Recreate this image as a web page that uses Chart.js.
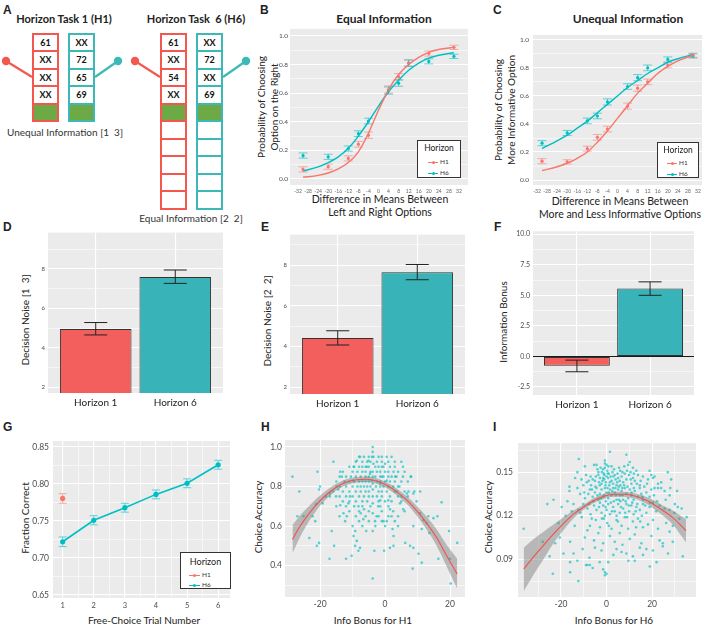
<!DOCTYPE html>
<html>
<head>
<meta charset="utf-8">
<title>Horizon task</title>
<script src="https://cdn.jsdelivr.net/npm/chart.js"></script>
<style>
  body { margin: 0; width: 708px; height: 626px; position: relative; overflow: hidden; background: #fff; font-family: Lato, sans-serif; color: #222; }
  canvas { position: absolute; }
  .t { position: absolute; transform: translate(-50%, -50%); white-space: nowrap; text-align: center; line-height: 1.2; }
  .r { position: absolute; transform: translate(-50%, -50%) rotate(-90deg); white-space: nowrap; text-align: center; line-height: 1.25; }
  .let { position: absolute; font-family: "Liberation Sans", Arial, sans-serif; font-weight: bold; font-size: 12px; }
  .cell { position: absolute; box-sizing: border-box; border: 2px solid; background: #fff; font-weight: bold; font-size: 9px; text-align: center; color: #111; }
  .leg { position: absolute; box-sizing: border-box; border: 1px solid #333; background: #fff; }
  .leg div { position: absolute; }
</style>
</head>
<body>

<!-- panel letters -->
<div class="let" style="left:3px;top:3px">A</div>
<div class="let" style="left:260px;top:3px">B</div>
<div class="let" style="left:493px;top:3px">C</div>
<div class="let" style="left:3px;top:220px">D</div>
<div class="let" style="left:261px;top:220px">E</div>
<div class="let" style="left:494px;top:220px">F</div>
<div class="let" style="left:3px;top:420px">G</div>
<div class="let" style="left:261px;top:420px">H</div>
<div class="let" style="left:493px;top:420px">I</div>

<!-- panel A -->
<div class="t" style="left:64px;top:19px;font-size:11px;font-weight:bold">Horizon Task 1 (H1)</div>
<div class="t" style="left:196px;top:19px;font-size:11px;font-weight:bold">Horizon Task &nbsp;6 (H6)</div>
<div class="t" style="left:65px;top:132px;font-size:10px;color:#333">Unequal Information [1 &nbsp;3]</div>
<div class="t" style="left:191px;top:218px;font-size:10px;color:#333">Equal Information [2 &nbsp;2]</div>
<svg id="armSvg" style="position:absolute;left:0;top:0" width="260" height="120"></svg>
<div id="panelA"></div>

<!-- titles -->
<div class="t" style="left:384px;top:19px;font-size:12px;font-weight:bold">Equal Information</div>
<div class="t" style="left:628px;top:19px;font-size:12px;font-weight:bold">Unequal Information</div>

<div class="r" style="left:267px;top:107px;font-size:10px">Probability of Choosing<br>Option on the Right</div>
<div class="r" style="left:504px;top:110px;font-size:10px">Probability of Choosing<br>More Informative Option</div>
<div class="t" style="left:380px;top:206px;font-size:10.5px;line-height:1.25">Difference in Means Between<br>Left and Right Options</div>
<div class="t" style="left:620px;top:208px;font-size:10.5px;line-height:1.25">Difference in Means Between<br>More and Less Informative Options</div>

<div class="r" style="left:25px;top:320px;font-size:10px">Decision Noise [1 &nbsp;3]</div>
<div class="r" style="left:267px;top:321px;font-size:10px">Decision Noise [2 &nbsp;2]</div>
<div class="r" style="left:503px;top:322px;font-size:10px">Information Bonus</div>

<div class="r" style="left:25px;top:518px;font-size:10px">Fraction Correct</div>
<div class="t" style="left:144px;top:620px;font-size:10px">Free-Choice Trial Number</div>
<div class="r" style="left:258px;top:517px;font-size:10px">Choice Accuracy</div>
<div class="t" style="left:373px;top:620px;font-size:10px">Info Bonus for H1</div>
<div class="r" style="left:488px;top:517px;font-size:10px">Choice Accuracy</div>
<div class="t" style="left:614px;top:620px;font-size:10px">Info Bonus for H6</div>

<canvas id="chartB"></canvas>
<canvas id="chartC"></canvas>
<canvas id="chartD"></canvas>
<canvas id="chartE"></canvas>
<canvas id="chartF"></canvas>
<canvas id="chartG"></canvas>
<canvas id="chartH"></canvas>
<canvas id="chartI"></canvas>
<div id="legends"></div>

<script>
// ---------- data ----------
// panel A: revealed outcomes in each bandit
var h1Left = ["61", "XX", "XX", "XX"];
var h1Right = ["XX", "72", "65", "69"];
var h6Left = ["61", "XX", "54", "XX"];
var h6Right = ["XX", "72", "XX", "69"];

// B: equal information
var bDiff = [-30, -20, -12, -8, -4, 4, 8, 12, 20, 30];
var bH1 = [0.067, 0.086, 0.144, 0.243, 0.306, 0.625, 0.715, 0.81, 0.877, 0.92];
var bH6 = [0.164, 0.155, 0.213, 0.317, 0.405, 0.618, 0.67, 0.81, 0.822, 0.857];
var bH1Err = [0.018, 0.018, 0.018, 0.02, 0.022, 0.025, 0.022, 0.022, 0.018, 0.015];
var bH6Err = [0.018, 0.018, 0.018, 0.02, 0.02, 0.025, 0.022, 0.022, 0.018, 0.015];
var bFitX = [-30, -24, -20, -16, -12, -8, -4, 0, 4, 8, 12, 16, 20, 24, 30];
var bFitH1 = [0.012, 0.025, 0.042, 0.07, 0.115, 0.19, 0.32, 0.48, 0.625, 0.73, 0.8, 0.85, 0.885, 0.905, 0.92];
var bFitH6 = [0.055, 0.085, 0.115, 0.155, 0.215, 0.3, 0.4, 0.51, 0.61, 0.69, 0.76, 0.81, 0.845, 0.865, 0.882];

// C: unequal information
var cDiff = [-30, -20, -12, -8, -4, 4, 8, 12, 20, 30];
var cH1 = [0.135, 0.13, 0.224, 0.305, 0.364, 0.527, 0.655, 0.7, 0.818, 0.89];
var cH6 = [0.263, 0.336, 0.422, 0.457, 0.557, 0.667, 0.73, 0.8, 0.86, 0.885];
var cH1Err = [0.018, 0.015, 0.018, 0.02, 0.02, 0.022, 0.022, 0.02, 0.018, 0.015];
var cH6Err = [0.018, 0.018, 0.02, 0.02, 0.022, 0.02, 0.022, 0.02, 0.018, 0.015];
var cFitX = [-30, -24, -20, -16, -12, -8, -4, 0, 4, 8, 12, 16, 20, 24, 30];
var cFitH1 = [0.068, 0.095, 0.12, 0.155, 0.2, 0.27, 0.35, 0.44, 0.53, 0.62, 0.69, 0.76, 0.81, 0.85, 0.89];
var cFitH6 = [0.225, 0.28, 0.32, 0.37, 0.42, 0.48, 0.54, 0.6, 0.66, 0.71, 0.76, 0.8, 0.84, 0.865, 0.895];

// D, E, F: bar charts
var horizons = ["Horizon 1", "Horizon 6"];
var dNoise = [4.95, 7.6], dLo = [4.65, 7.27], dHi = [5.28, 7.95];
var eNoise = [4.42, 7.65], eLo = [4.07, 7.28], eHi = [4.77, 8.03];
var fBonus = [-0.75, 5.55], fLo = [-1.25, 5.0], fHi = [-0.3, 6.1];

// G: fraction correct by free-choice trial
var gTrial = [1, 2, 3, 4, 5, 6];
var gH6 = [0.722, 0.751, 0.768, 0.786, 0.801, 0.826];
var gH6Err = [0.0065, 0.0062, 0.006, 0.006, 0.006, 0.006];
var gH1Trial = [1];
var gH1 = [0.7805];
var gH1Err = [0.0065];

// H: info bonus (H1) vs choice accuracy
var hPts = [
  [-28.5,0.85],[-26.4,0.775],[-27,0.65],[-25.1,0.65],[-23.3,0.54],[-21,0.5],[-20.3,0.515],[-20.8,0.875],[-20.3,0.785],[-20,0.8],
  [-21.2,0.71],[-22.3,0.65],[-21.5,0.625],[-19.2,0.715],[-18.2,0.75],[-16.9,0.765],[-16.4,0.575],[-15.7,0.5],[-17.1,0.435],[-15.9,0.925],
  [-13.8,0.875],[-13.3,0.85],[-14.9,0.8],[-15.1,0.75],[-14.4,0.785],[-13.8,0.705],[-12.8,0.665],[-11.8,0.65],[-12.3,0.625],[-12,0.435],
  [-10.3,0.45],[-9.7,0.55],[-9.2,0.575],[-8.7,0.525],[-7.7,0.49],[-8.2,0.475],[-9.2,0.5],[-11.3,0.715],[-10.8,0.75],[-9.9,0.83],
  [-9.7,0.9],[-8.7,0.93],[-7.7,0.95],[-8.2,0.7],[-7.5,0.665],[-6.7,0.635],[-5.8,0.575],[-6.5,0.685],[-5.6,0.9],[-5.1,0.93],
  [-4.6,0.865],[-4.1,0.83],[-3.8,0.975],[-3.8,1.0],[-3.6,0.95],[-3.6,0.915],[-3.8,0.875],[-3.8,0.85],[-3.8,0.815],[-3.8,0.785],
  [-3.8,0.75],[-3.8,0.715],[-3.8,0.665],[-3.8,0.575],[-3.8,0.335],[-3.3,0.475],[-3.1,0.625],[-2.6,0.65],[-2.1,0.7],[-1.5,0.73],
  [-1.5,0.815],[-1,0.85],[-0.5,0.9],[0,0.915],[0.5,0.95],[0.5,0.83],[1,0.8],[1,0.73],[1.5,0.685],[2,0.65],
  [2.6,0.875],[3.1,0.85],[2.3,0.585],[2.6,0.55],[0.5,0.625],[-0.5,0.625],[-0.3,0.475],[1.5,0.49],[2.6,0.5],[3.6,0.775],
  [4.4,0.8],[5.1,0.75],[4.6,0.715],[5.6,0.685],[6.7,0.765],[7.2,0.775],[7.9,0.85],[6.2,0.515],[7.7,0.5],[8.7,0.49],
  [8.7,0.765],[9.7,0.725],[10.8,0.775],[11.3,0.585],[8.7,0.6],[8.5,0.385],[10.3,0.46],[11.3,0.415],[10.8,0.665],[11.8,0.63],
  [12.8,0.615],[13.3,0.65],[14.9,0.64],[16.1,0.65],[13.6,0.565],[16.4,0.435],[17.4,0.72],[19.7,0.575],[20,0.435],[20.2,0.31],
  [22.2,0.515],
  [-8,0.95],[-6.5,0.95],[-5,0.95],[-4,0.95],[-2,0.95],[-1,0.95],[2,0.95],
  [-9,0.925],[-7,0.925],[-5.5,0.925],[-4.5,0.925],[-2.5,0.925],[-1,0.925],[1,0.925],[3,0.925],[5,0.925],
  [-11,0.9],[-9.5,0.9],[-8,0.9],[-7,0.9],[-6,0.9],[-5,0.9],[-3,0.9],[-2,0.9],[-1,0.9],[1.5,0.9],[3,0.9],[5.5,0.9],
  [-13,0.875],[-10,0.875],[-8.5,0.875],[-7,0.875],[-6,0.875],[-4.5,0.875],[-2.5,0.875],[-1.5,0.875],[0,0.875],[1,0.875],[4,0.875],[6,0.875],
  [-14,0.85],[-12,0.85],[-10.5,0.85],[-9,0.85],[-7.5,0.85],[-6,0.85],[-5,0.85],[-3,0.85],[-1.5,0.85],[-0.5,0.85],[1,0.85],[2,0.85],[3.5,0.85],[5.5,0.85],[8,0.85],
  [-15,0.825],[-12.5,0.825],[-11,0.825],[-9.5,0.825],[-8,0.825],[-7,0.825],[-6,0.825],[-5,0.825],[-2.5,0.825],[-1.5,0.825],[0,0.825],[1.5,0.825],[3,0.825],[5,0.825],[7,0.825],
  [-14,0.8],[-12,0.8],[-10,0.8],[-8.5,0.8],[-7.5,0.8],[-6.5,0.8],[-5.5,0.8],[-4.5,0.8],[-2.8,0.8],[-1.5,0.8],[-0.5,0.8],[2.5,0.8],[4,0.8],
  [-16,0.775],[-13,0.775],[-11,0.775],[-9,0.775],[-7.5,0.775],[-6,0.775],[-5,0.775],[-2,0.775],[-1,0.775],[0.5,0.775],[3,0.775],[6,0.775],[9,0.775],
  [-17,0.75],[-14,0.75],[-12,0.75],[-10,0.75],[-8,0.75],[-6.5,0.75],[-5,0.75],[-2.5,0.75],[-1,0.75],[1.5,0.75],[4,0.75],[7,0.75],
  [-13,0.725],[-11,0.725],[-9,0.725],[-7,0.725],[-5.5,0.725],[-2,0.725],[0,0.725],[2,0.725],[5,0.725],
  [-15,0.7],[-12,0.7],[-9.5,0.7],[-7,0.7],[-4.5,0.7],[-1.5,0.7],[1,0.7],
  [-11,0.675],[-8,0.675],[-5,0.675],[-1,0.675],[2.5,0.675],[6,0.675],
  [-14,0.65],[-9,0.65],[-6,0.65],[-2,0.65],[1,0.65],[4,0.65],
  [-8,0.625],[-5,0.625],[-1,0.625],[3,0.625],
  [-10,0.6],[-7,0.6],[-3,0.6],[0,0.6],[4,0.6]
];
var hFitX = [-28.5, -26.2, -24.1, -21, -17.9, -14.9, -11.8, -8.7, -5.6, -2.6, 0.5, 3.6, 6.7, 9.7, 12.8, 15.9, 19, 22.2];
var hFit = [0.532, 0.599, 0.648, 0.711, 0.761, 0.798, 0.823, 0.834, 0.837, 0.828, 0.806, 0.773, 0.731, 0.678, 0.615, 0.541, 0.449, 0.358];
var hHi = [0.605, 0.654, 0.69, 0.741, 0.783, 0.815, 0.838, 0.848, 0.851, 0.842, 0.821, 0.79, 0.751, 0.703, 0.647, 0.583, 0.504, 0.435];
var hLo = [0.462, 0.544, 0.606, 0.681, 0.739, 0.781, 0.808, 0.82, 0.823, 0.814, 0.791, 0.756, 0.711, 0.653, 0.583, 0.499, 0.394, 0.283];

// I: info bonus (H6) vs choice accuracy
var iPts = [
  [1.5,0.164],[-12.2,0.159],[-0.7,0.158],[-0.7,0.156],[8.7,0.162],[0,0.155],[10.2,0.157],
  [-9.5,0.154],[-5.5,0.155],[-4.4,0.155],[-3.6,0.150],[-1.5,0.152],[-0.7,0.153],[0.3,0.151],[2.2,0.154],[9.5,0.155],[11.6,0.153],[13.1,0.151],[18.9,0.151],[26.9,0.150],[-1.2,0.149],[-12.8,0.150],
  [-13.8,0.146],[-8.7,0.143],[-7,0.147],[-6.1,0.145],[-5.1,0.144],[-4.7,0.147],[-3.6,0.148],[-2.9,0.146],[-2.2,0.142],[-1.5,0.146],[-1,0.145],[0,0.147],[0.7,0.146],[1.5,0.143],[2.2,0.144],[2.9,0.142],[3.6,0.148],[4.4,0.141],[5.1,0.146],[5.8,0.144],[6.6,0.147],[7.3,0.143],[8,0.149],[8.7,0.145],[9.9,0.148],[10.9,0.142],[11.6,0.146],[12.4,0.144],[13.8,0.148],[14.6,0.141],[16,0.147],[18.2,0.145],[19.7,0.148],[20.4,0.146],[21.1,0.147],[22.6,0.142],[24,0.143],[28.4,0.145],[-10.2,0.141],[-16.3,0.140],[-9,0.148],[-3,0.141],[1,0.149],[4,0.145],[6.1,0.141],[-0.3,0.143],[3,0.147],[-6.8,0.141],[-11,0.145],
  [-23.3,0.131],[-17.2,0.130],[-16.3,0.137],[-11.6,0.135],[-9.5,0.132],[-7.3,0.138],[-6.1,0.133],[-5.1,0.136],[-4.4,0.139],[-3.6,0.131],[-2.9,0.135],[-2.2,0.138],[-1.5,0.133],[-0.7,0.139],[0,0.136],[0.7,0.132],[1.5,0.138],[2.2,0.134],[2.9,0.139],[3.6,0.136],[4.4,0.131],[5.1,0.138],[5.8,0.134],[6.6,0.137],[7.3,0.131],[8,0.139],[8.7,0.135],[9.5,0.132],[10.2,0.138],[10.9,0.134],[11.9,0.131],[12.4,0.137],[13.8,0.133],[14.6,0.139],[15.3,0.135],[16,0.131],[17.5,0.136],[18.9,0.133],[19.7,0.138],[21.1,0.139],[22.6,0.139],[24,0.139],[25.5,0.137],[27.7,0.134],[-12.8,0.139],[-8,0.135],[-0.3,0.130],[3.2,0.130],[6.1,0.130],[1,0.136],[-4,0.134],[11,0.136],
  [-19.7,0.126],[-15.3,0.123],[-10.2,0.128],[-8.4,0.125],[-7,0.121],[-5.5,0.127],[-4.4,0.124],[-2.9,0.129],[-2.2,0.122],[-1.5,0.127],[0,0.124],[0.7,0.128],[1.5,0.121],[2.9,0.126],[3.6,0.123],[5.1,0.128],[5.8,0.122],[7.3,0.125],[8.7,0.128],[9.9,0.123],[10.9,0.127],[11.9,0.121],[13.1,0.126],[14.6,0.124],[16,0.128],[17.5,0.122],[18.9,0.126],[20.4,0.129],[21.8,0.123],[23.3,0.127],[25.5,0.125],[27.7,0.124],[29.8,0.122],[31.3,0.126],[-12.4,0.124],[4.4,0.120],[-0.7,0.120],
  [-21.1,0.115],[-10.9,0.119],[-8.4,0.110],[-7.3,0.113],[-4.7,0.117],[-2.9,0.112],[-1.2,0.118],[0.3,0.115],[2.2,0.111],[4.4,0.117],[6.6,0.113],[8,0.119],[9.5,0.111],[11.6,0.116],[13.8,0.118],[16,0.112],[18.2,0.114],[20.4,0.117],[22.6,0.111],[26.2,0.115],[29.1,0.113],[32,0.118],[35.2,0.119],[-36.4,0.111],[-14,0.113],[13,0.112],
  [-9.5,0.105],[-5.5,0.103],[-3.6,0.108],[-1.5,0.101],[1.5,0.106],[3.6,0.102],[5.8,0.108],[10.2,0.104],[12.4,0.107],[15.3,0.101],[19.7,0.106],[23.3,0.103],[24.7,0.101],[27.7,0.109],[29.1,0.102],[-16,0.102],[-22.6,0.101],[7,0.100],
  [-25,0.092],[-18.9,0.094],[-12.8,0.089],[-2.2,0.096],[-5.1,0.098],[4.4,0.097],[6.6,0.095],[8.7,0.094],[11.6,0.092],[14.6,0.098],[16,0.093],[20.4,0.096],[24.7,0.099],[33.5,0.092],[-7.5,0.091],
  [-23.6,0.080],[-16,0.088],[-16,0.081],[-9,0.086],[-8.4,0.086],[-7.3,0.086],[-6.1,0.084],[-1.5,0.083],[-0.7,0.081],[0,0.080],[0.7,0.088],[12.4,0.089],[19,0.085],
  [-12.4,0.075],[-0.7,0.079],
  [-2,0.15],[-1,0.148],[0.5,0.149],[1.8,0.147],[2.6,0.15],[4.8,0.149],[6,0.151],[7,0.15],[9,0.151],[10.5,0.15],[12,0.149],[-4,0.152],[-2.6,0.153],[0.8,0.154],[3.3,0.152],[5.5,0.153],[7.8,0.154],
  [-1.8,0.144],[-0.4,0.141],[0.4,0.139],[1.2,0.141],[2.5,0.137],[3.9,0.139],[4.7,0.143],[5.4,0.14],[6.9,0.139],[7.7,0.141],[9.2,0.14],[10.6,0.145],[12,0.139],[13.3,0.142],[15,0.144],[16.6,0.14],[17.8,0.142],[-3.3,0.143],[-4.9,0.14],[-6.4,0.138],[-7.8,0.144],[-9.8,0.136],
  [-2.5,0.132],[-1.1,0.134],[1.9,0.129],[4.1,0.134],[5.5,0.131],[7,0.134],[8.4,0.13],[9.8,0.127],[11.3,0.129],[13.5,0.128],[15.8,0.133],[17,0.127],[19,0.129],[20.8,0.134],[22.2,0.13],[-5.8,0.13],[-7.6,0.128],[-3.3,0.126],[-0.4,0.126],[2.4,0.123],[6.3,0.126],[8.2,0.122],[12.8,0.123],[15.5,0.12],
  [-2,0.118],[1,0.113],[5,0.116],[9,0.119],[14.8,0.116],[-6.5,0.118],[-11.5,0.122],[-14.5,0.128],[-18,0.12],[-20.5,0.105],[-26,0.128],[26,0.131],[30,0.128],[33,0.125],[28,0.139],[31,0.137],[-28,0.102],
  [3,0.093],[-3,0.088],[9.6,0.089],[17.5,0.097],[22,0.088],[27,0.094],[-10.5,0.097],[-14.5,0.094]
];
var iFitX = [-36.4, -32, -27.7, -23.3, -18.9, -14.6, -10.2, -5.8, -1.5, 2.9, 7.3, 11.6, 16, 20.4, 24.7, 29.1, 34.9];
var iFit = [0.0833, 0.0918, 0.0996, 0.1075, 0.1146, 0.1209, 0.1258, 0.1303, 0.1332, 0.1348, 0.1348, 0.1339, 0.1316, 0.1281, 0.1236, 0.1187, 0.1097];
var iHi = [0.098, 0.104, 0.109, 0.114, 0.119, 0.1235, 0.1275, 0.132, 0.135, 0.1365, 0.1365, 0.1358, 0.1338, 0.131, 0.127, 0.1235, 0.1175];
var iLo = [0.068, 0.0795, 0.09, 0.101, 0.11, 0.118, 0.124, 0.1286, 0.1314, 0.133, 0.133, 0.132, 0.1294, 0.1252, 0.1202, 0.1139, 0.1015];

// tick positions and labels ('' = minor grid line only)
var probTicks = [0, 0.1, 0.2, 0.3, 0.4, 0.5, 0.6, 0.7, 0.8, 0.9, 1.0];
var probLabels = ["0.0", "", "0.2", "", "0.4", "", "0.6", "", "0.8", "", "1.0"];
var diffTicks = [-32, -28, -24, -20, -16, -12, -8, -4, 0, 4, 8, 12, 16, 20, 24, 28, 32];
var diffLabels = ["-32", "-28", "-24", "-20", "-16", "-12", "-8", "-4", "0", "4", "8", "12", "16", "20", "24", "28", "32"];
var noiseTicks = [2, 3, 4, 5, 6, 7, 8, 9];
var noiseLabels = ["2", "", "4", "", "6", "", "8", ""];
var bonusTicks = [-2.5, -1.25, 0, 1.25, 2.5, 3.75, 5, 6.25, 7.5, 8.75, 10];
var bonusLabels = ["-2.5", "", "0.0", "", "2.5", "", "5.0", "", "7.5", "", "10.0"];
var horizonTicks = [1, 2];
var fracTicks = [0.65, 0.675, 0.7, 0.725, 0.75, 0.775, 0.8, 0.825, 0.85];
var fracLabels = ["0.65", "", "0.70", "", "0.75", "", "0.80", "", "0.85"];
var trialTicks = [1, 1.5, 2, 2.5, 3, 3.5, 4, 4.5, 5, 5.5, 6];
var trialLabels = ["1", "", "2", "", "3", "", "4", "", "5", "", "6"];
var hXTicks = [-20, -10, 0, 10, 20];
var hXLabels = ["-20", "", "0", "", "20"];
var hYTicks = [0.3, 0.4, 0.5, 0.6, 0.7, 0.8, 0.9, 1.0];
var hYLabels = ["", "0.4", "", "0.6", "", "0.8", "", "1.0"];
var iXTicks = [-30, -20, -10, 0, 10, 20, 30];
var iXLabels = ["", "-20", "", "0", "", "20", ""];
var iYTicks = [0.075, 0.09, 0.105, 0.12, 0.135, 0.15, 0.165];
var iYLabels = ["", "0.09", "", "0.12", "", "0.15", ""];

// ---------- colours ----------
var RED = "#F8766D", CYAN = "#00BFC4";
var RED_ERR = "rgba(248,118,109,0.55)", CYAN_ERR = "rgba(0,191,196,0.6)";
var BAR_RED = "#F25F5C", BAR_CYAN = "#38B4B9";

// ---------- panel A ----------
function column(left, cells, nEmpty, color) {
  var rows = cells.concat(["#"]);
  for (var k = 0; k < nEmpty; k++) rows.push("");
  var html = "";
  rows.forEach(function (txt, i) {
    var top = 32.5 + i * 17.5;
    var bg = txt === "#" ? "#6DAA45" : "#fff";
    html += '<div class="cell" style="left:' + left + 'px;top:' + top + 'px;width:27px;height:19.5px;line-height:15.5px;border-color:' + color + ';background:' + bg + '">' + (txt === "#" ? "" : txt) + "</div>";
  });
  return html;
}
document.getElementById("panelA").innerHTML =
  column(32, h1Left, 0, "#F2584E") + column(68, h1Right, 0, "#3CB9B6") +
  column(160, h6Left, 5, "#F2584E") + column(196, h6Right, 5, "#3CB9B6");

var arms = [[6, 61, 32, 77, "#F2584E"], [118, 61, 95, 77, "#3CB9B6"], [135, 61, 160, 77, "#F2584E"], [246, 61, 223, 77, "#3CB9B6"]];
document.getElementById("armSvg").innerHTML = arms.map(function (a) {
  return '<line x1="' + a[0] + '" y1="' + a[1] + '" x2="' + a[2] + '" y2="' + a[3] + '" stroke="' + a[4] + '" stroke-width="2.2"/>' +
    '<circle cx="' + a[0] + '" cy="' + a[1] + '" r="4.2" fill="' + a[4] + '"/>';
}).join("");

// ---------- plugins ----------
var panelBg = {
  id: "panelBg",
  beforeDraw: function (chart) {
    var a = chart.chartArea, ctx = chart.ctx;
    ctx.save();
    ctx.fillStyle = "#EBEBEB";
    ctx.fillRect(a.left, a.top, a.right - a.left, a.bottom - a.top);
    ctx.restore();
  }
};
function drawErr(chart, behind) {
  var ctx = chart.ctx, ys = chart.scales.y;
  chart.data.datasets.forEach(function (ds, di) {
    if (!ds.errLo || !!ds.errBehind !== behind) return;
    var meta = chart.getDatasetMeta(di);
    ctx.save();
    ctx.strokeStyle = ds.errColor;
    ctx.lineWidth = ds.errWidth || 1;
    meta.data.forEach(function (el, i) {
      var x = el.x, y1 = ys.getPixelForValue(ds.errLo[i]), y2 = ys.getPixelForValue(ds.errHi[i]), w = ds.capW / 2;
      ctx.beginPath();
      ctx.moveTo(x, y1); ctx.lineTo(x, y2);
      ctx.moveTo(x - w, y1); ctx.lineTo(x + w, y1);
      ctx.moveTo(x - w, y2); ctx.lineTo(x + w, y2);
      ctx.stroke();
    });
    ctx.restore();
  });
}
var errorBars = {
  id: "errorBars",
  beforeDatasetsDraw: function (c) { drawErr(c, true); },
  afterDatasetsDraw: function (c) { drawErr(c, false); }
};
Chart.register(panelBg, errorBars);

// ---------- helpers ----------
function linAxis(min, max, ticks, labels, o) {
  return {
    type: "linear", min: min, max: max, offset: false,
    afterBuildTicks: function (s) { s.ticks = ticks.map(function (v) { return { value: v }; }); },
    afterFit: function (s) { if (o.w) s.width = o.w; if (o.h) s.height = o.h; },
    border: { display: false },
    grid: {
      display: o.grid !== false,
      drawTicks: false,
      offset: false,
      color: function (c) { return (o.zero && c.tick && c.tick.value === 0) ? "#1a1a1a" : "#ffffff"; },
      lineWidth: function (c) { return labels[c.index] ? 1.1 : 0.55; }
    },
    ticks: {
      autoSkip: false, maxRotation: 0, padding: o.pad || 3, color: o.color || "#4d4d4d",
      font: { family: "Lato", size: o.size || 7 },
      callback: function (v, i) { return labels[i]; }
    }
  };
}
function pts(xs, ys) { return xs.map(function (x, i) { return { x: x, y: ys[i] }; }); }
function pairs(list) { return list.map(function (p) { return { x: p[0], y: p[1] }; }); }
function lo(v, e) { return v.map(function (y, i) { return y - e[i]; }); }
function hi(v, e) { return v.map(function (y, i) { return y + e[i]; }); }

function makeChart(id, box, type, datasets, scales) {
  var cv = document.getElementById(id);
  cv.width = box.x1 - box.x0 + box.yW + box.pr;
  cv.height = box.y1 - box.y0 + box.pt + box.xH;
  cv.style.left = (box.x0 - box.yW) + "px";
  cv.style.top = (box.y0 - box.pt) + "px";
  return new Chart(cv, {
    type: type,
    data: { datasets: datasets },
    options: {
      responsive: false, animation: false,
      layout: { padding: { top: box.pt, right: box.pr, left: 0, bottom: 0 } },
      plugins: { legend: { display: false }, tooltip: { enabled: false } },
      scales: scales
    }
  });
}
function curve(data, color, w) {
  return { type: "line", data: data, borderColor: color, borderWidth: w || 1.4, pointRadius: 0, cubicInterpolationMode: "monotone", fill: false };
}
function dots(data, color, r, errLo, errHi, errColor, capW) {
  return { type: "scatter", data: data, backgroundColor: color, borderWidth: 0, pointRadius: r,
    errLo: errLo, errHi: errHi, errColor: errColor, capW: capW, errBehind: true };
}

// ---------- B ----------
makeChart("chartB", { x0: 290, y0: 28, x1: 468, y1: 185, yW: 24, xH: 12, pt: 5, pr: 4 }, "scatter", [
  dots(pts(bDiff, bH1), RED, 1.6, lo(bH1, bH1Err), hi(bH1, bH1Err), RED_ERR, 9),
  dots(pts(bDiff, bH6), CYAN, 1.6, lo(bH6, bH6Err), hi(bH6, bH6Err), CYAN_ERR, 9),
  curve(pts(bFitX, bFitH1), RED),
  curve(pts(bFitX, bFitH6), CYAN)
], {
  x: linAxis(-35.2, 35.6, diffTicks, diffLabels, { h: 12, size: 5, pad: 3, grid: false, color: "#666" }),
  y: linAxis(-0.042, 1.049, probTicks, probLabels, { w: 24, size: 6.5, pad: 2 })
});

// ---------- C ----------
makeChart("chartC", { x0: 533, y0: 32, x1: 702, y1: 185, yW: 24, xH: 12, pt: 5, pr: 4 }, "scatter", [
  dots(pts(cDiff, cH1), RED, 1.6, lo(cH1, cH1Err), hi(cH1, cH1Err), RED_ERR, 9),
  dots(pts(cDiff, cH6), CYAN, 1.6, lo(cH6, cH6Err), hi(cH6, cH6Err), CYAN_ERR, 9),
  curve(pts(cFitX, cFitH1), RED),
  curve(pts(cFitX, cFitH6), CYAN)
], {
  x: linAxis(-33.6, 33.6, diffTicks, diffLabels, { h: 12, size: 5, pad: 3, grid: false, color: "#666" }),
  y: linAxis(-0.035, 1.035, probTicks, probLabels, { w: 24, size: 6.5, pad: 4 })
});

// ---------- D, E, F ----------
function bars(vals, los, his) {
  return {
    type: "bar", data: pts(horizonTicks, vals),
    backgroundColor: [BAR_RED, BAR_CYAN], borderColor: "#333", borderWidth: 1, borderSkipped: false,
    barPercentage: 0.9, categoryPercentage: 1,
    errLo: los, errHi: his, errColor: "#222", capW: 23, errWidth: 1
  };
}
function horizonAxis(min, max) {
  return linAxis(min, max, horizonTicks, horizons, { h: 18, size: 10, pad: 4, color: "#222" });
}
makeChart("chartD", { x0: 48, y0: 230, x1: 223, y1: 393, yW: 20, xH: 18, pt: 4, pr: 4 }, "bar", [bars(dNoise, dLo, dHi)], {
  x: horizonAxis(0.4, 2.6),
  y: linAxis(1.7, 9.85, noiseTicks, noiseLabels, { w: 20, size: 6, pad: 3 })
});
makeChart("chartE", { x0: 290, y0: 232, x1: 465, y1: 394, yW: 20, xH: 18, pt: 4, pr: 4 }, "bar", [bars(eNoise, eLo, eHi)], {
  x: horizonAxis(0.4, 2.6),
  y: linAxis(1.66, 9.5, noiseTicks, noiseLabels, { w: 20, size: 6, pad: 3 })
});
makeChart("chartF", { x0: 533, y0: 229, x1: 694, y1: 395, yW: 26, xH: 18, pt: 5, pr: 4 }, "bar", [bars(fBonus, fLo, fHi)], {
  x: horizonAxis(0.4, 2.6),
  y: linAxis(-3.15, 10.24, bonusTicks, bonusLabels, { w: 26, size: 7, pad: 3, zero: true })
});

// ---------- G ----------
var gLine = dots(pts(gTrial, gH6), CYAN, 2.6, lo(gH6, gH6Err), hi(gH6, gH6Err), CYAN_ERR, 8);
gLine.type = "line"; gLine.borderColor = CYAN; gLine.borderWidth = 1.6; gLine.pointBorderWidth = 0;
makeChart("chartG", { x0: 53, y0: 437, x1: 230, y1: 598, yW: 30, xH: 14, pt: 5, pr: 4 }, "scatter", [
  dots(pts(gH1Trial, gH1), RED, 2.6, lo(gH1, gH1Err), hi(gH1, gH1Err), RED_ERR, 8),
  gLine
], {
  x: linAxis(0.69, 6.38, trialTicks, trialLabels, { h: 14, size: 7.5, pad: 3 }),
  y: linAxis(0.646, 0.858, fracTicks, fracLabels, { w: 30, size: 8.5, pad: 4 })
});

// ---------- H, I ----------
function band(data, fill) {
  return { type: "line", data: data, borderWidth: 0, pointRadius: 0, cubicInterpolationMode: "monotone", fill: fill, backgroundColor: "rgba(120,120,120,0.45)" };
}
function cloud(data) {
  return { type: "scatter", data: data, backgroundColor: "rgba(20,195,198,0.7)", borderWidth: 0, pointRadius: 1.3 };
}
makeChart("chartH", { x0: 285, y0: 437, x1: 465, y1: 597, yW: 26, xH: 14, pt: 5, pr: 4 }, "scatter", [
  curve(pts(hFitX, hFit), "#F0524C", 1.1),
  band(pts(hFitX, hHi), false),
  band(pts(hFitX, hLo), "-1"),
  cloud(pairs(hPts))
], {
  x: linAxis(-30.8, 24.6, hXTicks, hXLabels, { h: 14, size: 8.5, pad: 2 }),
  y: linAxis(0.2414, 1.0347, hYTicks, hYLabels, { w: 26, size: 8.5, pad: 3 })
});
makeChart("chartI", { x0: 518, y0: 438, x1: 696, y1: 597, yW: 32, xH: 14, pt: 5, pr: 4 }, "scatter", [
  curve(pts(iFitX, iFit), "#F0524C", 1.1),
  band(pts(iFitX, iHi), false),
  band(pts(iFitX, iLo), "-1"),
  cloud(pairs(iPts))
], {
  x: linAxis(-38.9, 39.3, iXTicks, iXLabels, { h: 14, size: 8.5, pad: 2 }),
  y: linAxis(0.064, 0.17, iYTicks, iYLabels, { w: 32, size: 8.5, pad: 5 })
});

// ---------- legends ----------
function legend(l, t, w, h, titleY, rowYs, keyL, keyW, textL, titleSize, rowSize) {
  var html = '<div class="leg" style="left:' + l + 'px;top:' + t + 'px;width:' + w + 'px;height:' + h + 'px">';
  html += '<div style="left:0;right:0;top:' + (titleY - titleSize * 0.6) + 'px;text-align:center;font-size:' + titleSize + 'px">Horizon</div>';
  [["H1", RED], ["H6", CYAN]].forEach(function (row, i) {
    var y = rowYs[i];
    html += '<div style="left:' + keyL + 'px;top:' + (y - 0.5) + 'px;width:' + keyW + 'px;height:1px;background:' + row[1] + '"></div>';
    html += '<div style="left:' + (keyL + keyW / 2 - 1.5) + 'px;top:' + (y - 1.5) + 'px;width:3px;height:3px;border-radius:50%;background:' + row[1] + '"></div>';
    html += '<div style="left:' + textL + 'px;top:' + (y - rowSize * 0.65) + 'px;font-size:' + rowSize + 'px;color:#333">' + row[0] + '</div>';
  });
  return html + "</div>";
}
document.getElementById("legends").innerHTML =
  legend(417, 140, 44, 38, 7, [21, 32], 10, 10, 22, 8.5, 6.5) +
  legend(657, 142, 42, 36, 7, [20, 31], 9, 10, 21, 8.5, 6.5) +
  legend(180, 552, 51, 37, 8.5, [22, 32], 8, 11, 21, 9, 6.5);
</script>
</body>
</html>
